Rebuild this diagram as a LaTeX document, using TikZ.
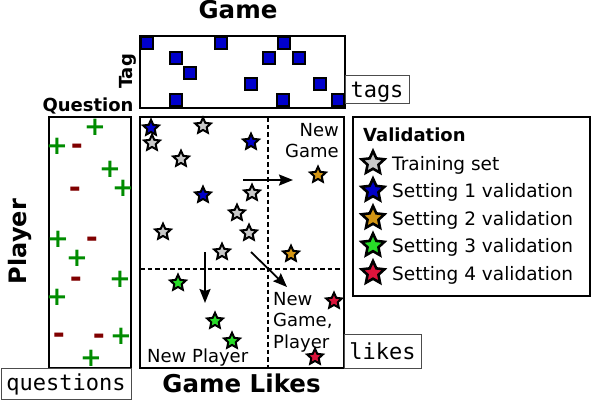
\documentclass[tikz,border=0pt]{standalone}
\usepackage{fontspec}
\setmainfont{DejaVu Sans}
\setmonofont{DejaVu Sans Mono}
\usetikzlibrary{shapes.geometric, arrows.meta}

\definecolor{quadratblau}{RGB}{0,0,204}
\definecolor{sterngrau}{RGB}{200,200,200}
\definecolor{sternblau}{RGB}{0,0,200}
\definecolor{sternorange}{RGB}{212,150,20}
\definecolor{sterngruen}{RGB}{40,220,40}
\definecolor{sternrot}{RGB}{220,20,60}
\definecolor{plusgruen}{RGB}{0,140,0}
\definecolor{minusrot}{RGB}{128,0,0}

\tikzset{
	titel/.style={font=\bfseries\fontsize{24.5}{28}\selectfont, inner sep=0pt},
	kopf/.style={font=\bfseries\fontsize{18}{21}\selectfont, inner sep=0pt},
	etikett/.style={font=\fontsize{18}{21.5}\selectfont, inner sep=0pt},
	datei/.style={draw=black!70, line width=1pt, font=\ttfamily\fontsize{22}{26}\selectfont, inner sep=0pt, anchor=base},
	quadrat/.style={rectangle, draw=black, line width=2pt, fill=quadratblau, minimum size=12pt, inner sep=0pt},
	stern/.style={star, star points=5, star point ratio=2.1, draw=black, line width=2pt, minimum size=16.5pt, inner sep=0pt},
	pluszeichen/.style={text=plusgruen, font=\bfseries\fontsize{26}{26}\selectfont, inner xsep=-2pt, inner ysep=-1pt},
	minuszeichen/.style={text=minusrot, font=\bfseries\fontsize{29}{29}\selectfont, inner xsep=-1pt, inner ysep=0pt, yshift=-3.5pt},
	pfeil/.style={line width=1.8pt, -{Stealth[length=14pt, width=11pt, inset=2pt]}},
	trenner/.style={line width=2pt, dash pattern=on 4.5pt off 3pt},
}

\begin{document}
\begin{tikzpicture}[x=1pt, y=-1pt]
	\useasboundingbox (0,0) rectangle (591,400); % Rand wie im Original
	
	% Rahmen
	\draw[line width=2.6pt] (140,36) rectangle (345,108);
	\draw[line width=2.6pt] (49,117) rectangle (131,368);
	\draw[line width=2.6pt] (140,117) rectangle (344,368);
	\draw[line width=1.6pt] (353,117) rectangle (590,296);
	
	% Titel
	\node[titel, anchor=base] (game) at (238,18.5) {Game};
	\node[titel, anchor=base] (likestitel) at (241.5,392.5) {Game Likes};
	\node[titel, font=\bfseries\fontsize{24}{28}\selectfont, rotate=90] (player) at (20,241.5) {Player};
	\node[kopf, rotate=90] (tag) at (127.5,71.5) {Tag};
	\node[kopf, anchor=base] (question) at (88,111) {Question};
	
	% Dateinamen
	\node[datei, minimum width=64pt, text height=22.3pt, text depth=5.7pt] (tags) at (377,97.3) {tags};
	\node[datei, minimum width=77pt, text height=25.3pt, text depth=8.7pt] (likes) at (382.5,359.3) {likes};
	\node[datei, minimum width=130pt, text height=22pt, text depth=9pt] (questions) at (66,390) {questions};
	
	% Tags der Spiele
	\foreach \x/\y [count=\i] in {147/43, 221/43, 284/43, 176/58, 269/58, 299/58, 190/73, 251/84, 320/84, 176/100, 283/100, 338/100}
		\node[quadrat] (q\i) at (\x,\y) {};
	
	% Antworten der Spieler
	\foreach \x/\y [count=\i] in {95/127, 57/146, 110/169, 123/188, 58/239, 77/258, 120/279, 57/297, 121/336, 91/358}
		\node[pluszeichen] (p\i) at (\x,\y) {+};
	\foreach \x/\y [count=\i] in {77/146, 75/189, 92/239, 76/279, 59/335, 99/336}
		\node[minuszeichen] (m\i) at (\x,\y) {-};
	
	% Trennlinien
	\coordinate (to) at (268,117);
	\coordinate (tu) at (268,368);
	\coordinate (tl) at (140,269);
	\coordinate (tr) at (344,269);
	\draw[trenner] (to) -- (tu);
	\draw[trenner] (tl) -- (tr);
	
	% Sterne
	\foreach \x/\y/\farbe [count=\i] in {151/128/sternblau, 203/126/sterngrau, 152/143/sterngrau, 251/142/sternblau, 181/159/sterngrau, 318/175/sternorange, 203/195/sternblau, 252/193/sterngrau, 237/213/sterngrau, 163/232/sterngrau, 249/233/sterngrau, 222/252/sterngrau, 291/254/sternorange, 178/283/sterngruen, 334/301/sternrot, 215/321/sterngruen, 232/341/sterngruen, 315/357/sternrot}
		\node[stern, fill=\farbe] (s\i) at (\x,\y) {};
	
	% Pfeile
	\coordinate (ha) at (243,180);
	\coordinate (hb) at (293,180);
	\coordinate (va) at (205,252);
	\coordinate (vb) at (205,303);
	\coordinate (da) at (251,252);
	\coordinate (db) at (287,287);
	\draw[pfeil] (ha) -- (hb);
	\draw[pfeil] (va) -- (vb);
	\draw[pfeil] (da) -- (db);
	
	% Beschriftungen
	\node[etikett, align=right, anchor=north east] (neuspiel) at (339,123) {New\\Game};
	\node[etikett, align=left, anchor=north west] (neubeide) at (273,292) {New\\Game,\\Player};
	\node[etikett, anchor=base west] (neuspieler) at (147,362) {New Player};
	
	% Legende
	\node[kopf, anchor=base west] (validation) at (363,141) {Validation};
	\foreach \farbe/\eintrag [count=\i, evaluate=\i as \yb using 142.5+27.5*\i] in {sterngrau/Training set, sternblau/Setting 1 validation, sternorange/Setting 2 validation, sterngruen/Setting 3 validation, sternrot/Setting 4 validation}
	{
		\node[stern, fill=\farbe, minimum size=24pt, line width=2.6pt] (ls\i) at (373,{\yb-7}) {};
		\node[etikett, font=\fontsize{18.5}{21}\selectfont, anchor=base west] (lt\i) at (392,\yb) {\eintrag};
	}
	
	%\draw[help lines, step=10] (0,0) grid (591,400);
\end{tikzpicture}
\end{document}
